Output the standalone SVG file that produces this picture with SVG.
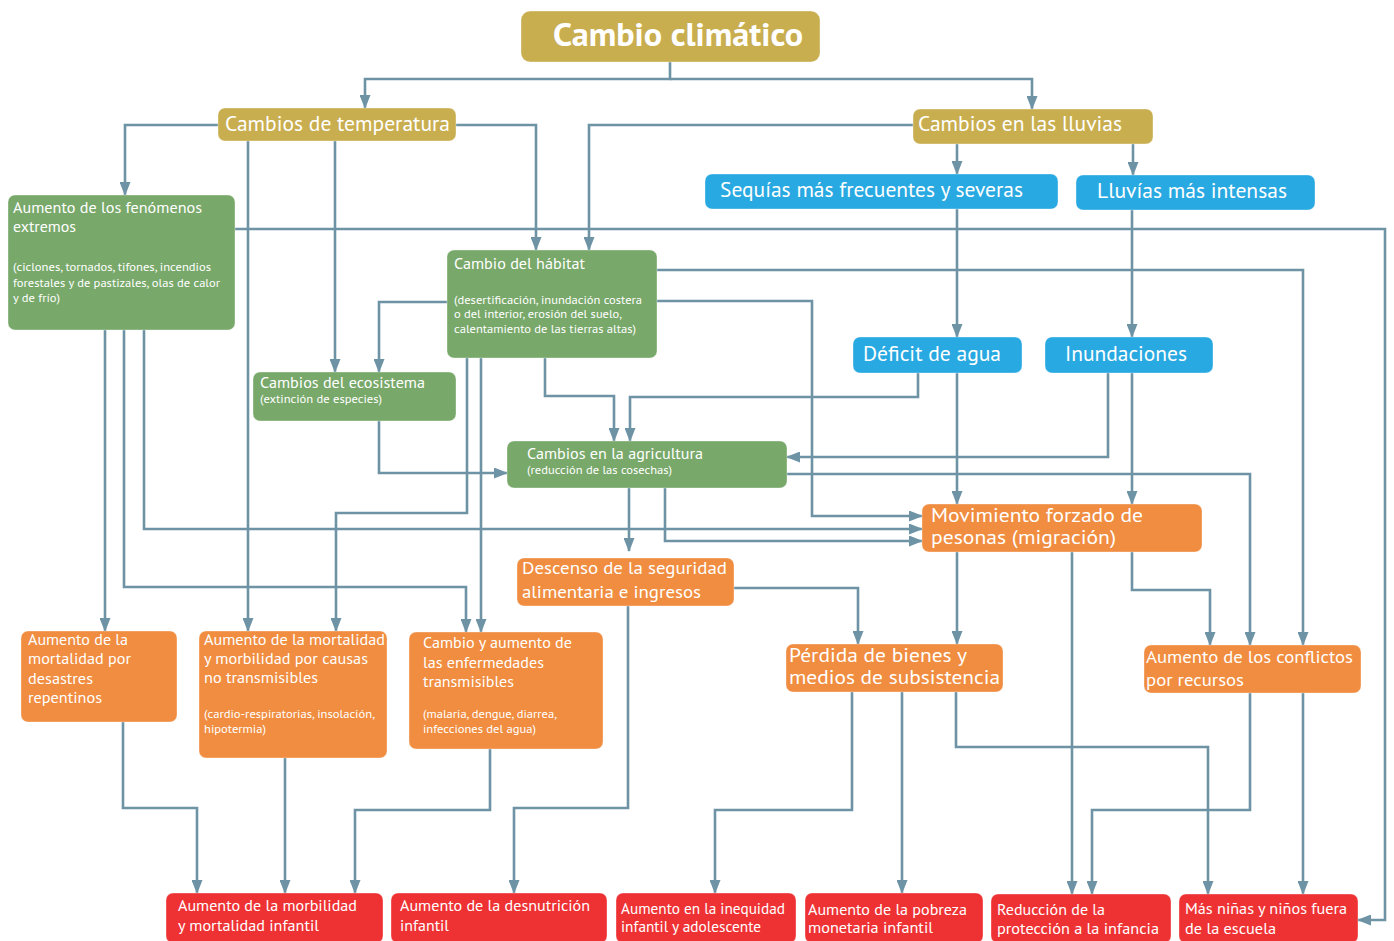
<svg xmlns="http://www.w3.org/2000/svg" width="1394" height="941" viewBox="0 0 1394 941">
<style>
.gold{fill:#C9AE50}.blue{fill:#29A9E1}.green{fill:#78A86A}.orange{fill:#F08D40}.red{fill:#EE3234}
rect{stroke:#ffffff;stroke-opacity:0.35;stroke-width:1}
text{fill:#ffffff;font-family:"PT Sans","Noto Sans","Open Sans",sans-serif}
.t33{font-size:33px;font-weight:bold}.t21{font-size:21px}.t19{font-size:19px}.t18{font-size:18px}.t16{font-size:16px}.t15{font-size:15px}.t11{font-size:11.5px}
#connectors path{fill:none;stroke:#6E93A5;stroke-width:2.6;marker-end:url(#arr)}
</style>
<defs>
<marker id="arr" markerUnits="userSpaceOnUse" markerWidth="14" markerHeight="11" refX="13" refY="5.5" orient="auto">
<path d="M0,0 L14,5.5 L0,11 z" fill="#6E93A5"/>
</marker>
</defs>
<rect width="1394" height="941" fill="#ffffff" stroke="none"/>
<g id="connectors">
<path d="M670,62 V79 H365 V108"/>
<path d="M670,79 H1032 V109"/>
<path d="M218,125 H125 V195"/>
<path d="M456,125 H536 V250"/>
<path d="M248,141 V631"/>
<path d="M335,141 V372"/>
<path d="M913,125 H589 V250"/>
<path d="M957,144 V174"/>
<path d="M1133,144 V175"/>
<path d="M957,209 V337"/>
<path d="M1132,210 V337"/>
<path d="M235,229 H1385 V920 H1358"/>
<path d="M657,270 H1303 V645"/>
<path d="M657,301 H812 V516 H922"/>
<path d="M447,302 H379 V372"/>
<path d="M545,358 V396 H614 V441"/>
<path d="M918,373 V397 H630 V441"/>
<path d="M957,373 V504"/>
<path d="M1108,373 V457 H787"/>
<path d="M1132,373 V504"/>
<path d="M787,474 H1250 V645"/>
<path d="M629,488 V551"/>
<path d="M665,488 V541 H922"/>
<path d="M144,330 V529 H922"/>
<path d="M379,421 V473 H507"/>
<path d="M467,358 V513 H336 V631"/>
<path d="M481,358 V632"/>
<path d="M124,330 V587 H466 V632"/>
<path d="M105,330 V631"/>
<path d="M734,588 H858 V644"/>
<path d="M957,552 V644"/>
<path d="M1072,552 V894"/>
<path d="M1132,552 V590 H1210 V645"/>
<path d="M628,606 V808 H514 V893"/>
<path d="M123,722 V808 H197 V893"/>
<path d="M285,758 V893"/>
<path d="M490,749 V810 H355 V893"/>
<path d="M852,692 V810 H715 V893"/>
<path d="M902,692 V893"/>
<path d="M956,692 V747 H1208 V894"/>
<path d="M1250,693 V810 H1092 V894"/>
<path d="M1303,693 V894"/>
</g>
<g id="n-cambio-climatico"><rect class="gold" x="521" y="11" width="299" height="51" rx="9"/><text class="t33" x="553" y="46" textLength="250" lengthAdjust="spacingAndGlyphs">Cambio climático</text></g>
<g id="n-temperatura"><rect class="gold" x="218" y="108" width="238" height="33" rx="7"/><text class="t21" x="225" y="131" textLength="225" lengthAdjust="spacingAndGlyphs">Cambios de temperatura</text></g>
<g id="n-lluvias"><rect class="gold" x="913" y="109" width="240" height="35" rx="7"/><text class="t21" x="918" y="131" textLength="204" lengthAdjust="spacingAndGlyphs">Cambios en las lluvias</text></g>
<g id="n-sequias"><rect class="blue" x="705" y="174" width="353" height="35" rx="7"/><text class="t21" x="720" y="197" textLength="303" lengthAdjust="spacingAndGlyphs">Sequías más frecuentes y severas</text></g>
<g id="n-lluvias-intensas"><rect class="blue" x="1076" y="175" width="239" height="35" rx="7"/><text class="t21" x="1097" y="198" textLength="190" lengthAdjust="spacingAndGlyphs">Lluvías más intensas</text></g>
<g id="n-fenomenos"><rect class="green" x="8" y="195" width="227" height="135" rx="7"/>
<text class="t16" x="13" y="213" textLength="189" lengthAdjust="spacingAndGlyphs">Aumento de los fenómenos</text>
<text class="t16" x="13" y="232" textLength="63" lengthAdjust="spacingAndGlyphs">extremos</text>
<text class="t11" x="13" y="271" textLength="198" lengthAdjust="spacingAndGlyphs">(ciclones, tornados, tifones, incendios</text>
<text class="t11" x="13" y="287" textLength="207" lengthAdjust="spacingAndGlyphs">forestales y de pastizales, olas de calor</text>
<text class="t11" x="13" y="302" textLength="47" lengthAdjust="spacingAndGlyphs">y de frío)</text></g>
<g id="n-habitat"><rect class="green" x="447" y="250" width="210" height="108" rx="7"/>
<text class="t16" x="454" y="269" textLength="131" lengthAdjust="spacingAndGlyphs">Cambio del hábitat</text>
<text class="t11" x="454" y="304" textLength="188" lengthAdjust="spacingAndGlyphs">(desertificación, inundación costera</text>
<text class="t11" x="454" y="318" textLength="168" lengthAdjust="spacingAndGlyphs">o del interior, erosión del suelo,</text>
<text class="t11" x="454" y="333" textLength="182" lengthAdjust="spacingAndGlyphs">calentamiento de las tierras altas)</text></g>
<g id="n-ecosistema"><rect class="green" x="253" y="372" width="203" height="49" rx="7"/>
<text class="t16" x="260" y="388" textLength="165" lengthAdjust="spacingAndGlyphs">Cambios del ecosistema</text>
<text class="t11" x="260" y="403" textLength="122" lengthAdjust="spacingAndGlyphs">(extinción de especies)</text></g>
<g id="n-agricultura"><rect class="green" x="507" y="441" width="280" height="47" rx="7"/>
<text class="t16" x="527" y="459" textLength="176" lengthAdjust="spacingAndGlyphs">Cambios en la agricultura</text>
<text class="t11" x="527" y="474" textLength="145" lengthAdjust="spacingAndGlyphs">(reducción de las cosechas)</text></g>
<g id="n-deficit"><rect class="blue" x="853" y="337" width="169" height="36" rx="7"/><text class="t21" x="863" y="361" textLength="138" lengthAdjust="spacingAndGlyphs">Déficit de agua</text></g>
<g id="n-inundaciones"><rect class="blue" x="1045" y="337" width="168" height="36" rx="7"/><text class="t21" x="1065" y="361" textLength="122" lengthAdjust="spacingAndGlyphs">Inundaciones</text></g>
<g id="n-movimiento"><rect class="orange" x="922" y="504" width="280" height="48" rx="7"/>
<text class="t19" x="931" y="522" textLength="212" lengthAdjust="spacingAndGlyphs">Movimiento forzado de</text>
<text class="t19" x="931" y="544" textLength="185" lengthAdjust="spacingAndGlyphs">pesonas (migración)</text></g>
<g id="n-descenso"><rect class="orange" x="517" y="558" width="217" height="48" rx="7"/>
<text class="t18" x="522" y="574" textLength="205" lengthAdjust="spacingAndGlyphs">Descenso de la seguridad</text>
<text class="t18" x="522" y="598" textLength="179" lengthAdjust="spacingAndGlyphs">alimentaria e ingresos</text></g>
<g id="n-desastres"><rect class="orange" x="21" y="631" width="156" height="91" rx="7"/>
<text class="t16" x="28" y="645" textLength="100" lengthAdjust="spacingAndGlyphs">Aumento de la</text>
<text class="t16" x="28" y="664" textLength="103" lengthAdjust="spacingAndGlyphs">mortalidad por</text>
<text class="t16" x="28" y="684" textLength="65" lengthAdjust="spacingAndGlyphs">desastres</text>
<text class="t16" x="28" y="703" textLength="74" lengthAdjust="spacingAndGlyphs">repentinos</text></g>
<g id="n-no-transmisibles"><rect class="orange" x="199" y="631" width="188" height="127" rx="7"/>
<text class="t16" x="204" y="645" textLength="181" lengthAdjust="spacingAndGlyphs">Aumento de la mortalidad</text>
<text class="t16" x="204" y="664" textLength="164" lengthAdjust="spacingAndGlyphs">y morbilidad por causas</text>
<text class="t16" x="204" y="683" textLength="114" lengthAdjust="spacingAndGlyphs">no transmisibles</text>
<text class="t11" x="204" y="718" textLength="171" lengthAdjust="spacingAndGlyphs">(cardio-respiratorias, insolación,</text>
<text class="t11" x="204" y="733" textLength="62" lengthAdjust="spacingAndGlyphs">hipotermia)</text></g>
<g id="n-transmisibles"><rect class="orange" x="409" y="632" width="194" height="117" rx="7"/>
<text class="t16" x="423" y="648" textLength="149" lengthAdjust="spacingAndGlyphs">Cambio y aumento de</text>
<text class="t16" x="423" y="668" textLength="121" lengthAdjust="spacingAndGlyphs">las enfermedades</text>
<text class="t16" x="423" y="687" textLength="91" lengthAdjust="spacingAndGlyphs">transmisibles</text>
<text class="t11" x="423" y="718" textLength="134" lengthAdjust="spacingAndGlyphs">(malaria, dengue, diarrea,</text>
<text class="t11" x="423" y="733" textLength="113" lengthAdjust="spacingAndGlyphs">infecciones del agua)</text></g>
<g id="n-perdida"><rect class="orange" x="786" y="644" width="217" height="48" rx="7"/>
<text class="t19" x="789" y="662" textLength="178" lengthAdjust="spacingAndGlyphs">Pérdida de bienes y</text>
<text class="t19" x="789" y="684" textLength="211" lengthAdjust="spacingAndGlyphs">medios de subsistencia</text></g>
<g id="n-conflictos"><rect class="orange" x="1144" y="645" width="217" height="48" rx="7"/>
<text class="t18" x="1146" y="663" textLength="207" lengthAdjust="spacingAndGlyphs">Aumento de los conflictos</text>
<text class="t18" x="1146" y="686" textLength="98" lengthAdjust="spacingAndGlyphs">por recursos</text></g>
<g id="n-morbilidad-infantil"><rect class="red" x="166" y="893" width="217" height="50" rx="7"/>
<text class="t16" x="178" y="911" textLength="179" lengthAdjust="spacingAndGlyphs">Aumento de la morbilidad</text>
<text class="t16" x="178" y="931" textLength="141" lengthAdjust="spacingAndGlyphs">y mortalidad infantil</text></g>
<g id="n-desnutricion"><rect class="red" x="391" y="893" width="216" height="50" rx="7"/>
<text class="t16" x="400" y="911" textLength="190" lengthAdjust="spacingAndGlyphs">Aumento de la desnutrición</text>
<text class="t16" x="400" y="931" textLength="49" lengthAdjust="spacingAndGlyphs">infantil</text></g>
<g id="n-inequidad"><rect class="red" x="616" y="893" width="180" height="50" rx="7"/>
<text class="t15" x="621" y="914" textLength="164" lengthAdjust="spacingAndGlyphs">Aumento en la inequidad</text>
<text class="t15" x="621" y="932" textLength="140" lengthAdjust="spacingAndGlyphs">infantil y adolescente</text></g>
<g id="n-pobreza"><rect class="red" x="805" y="893" width="178" height="50" rx="7"/>
<text class="t15" x="808" y="915" textLength="159" lengthAdjust="spacingAndGlyphs">Aumento de la pobreza</text>
<text class="t15" x="808" y="933" textLength="125" lengthAdjust="spacingAndGlyphs">monetaria infantil</text></g>
<g id="n-proteccion"><rect class="red" x="991" y="894" width="180" height="49" rx="7"/>
<text class="t15" x="997" y="915" textLength="108" lengthAdjust="spacingAndGlyphs">Reducción de la</text>
<text class="t15" x="997" y="934" textLength="162" lengthAdjust="spacingAndGlyphs">protección a la infancia</text></g>
<g id="n-escuela"><rect class="red" x="1179" y="894" width="179" height="49" rx="7"/>
<text class="t15" x="1185" y="914" textLength="162" lengthAdjust="spacingAndGlyphs">Más niñas y niños fuera</text>
<text class="t15" x="1185" y="934" textLength="91" lengthAdjust="spacingAndGlyphs">de la escuela</text></g>
</svg>
